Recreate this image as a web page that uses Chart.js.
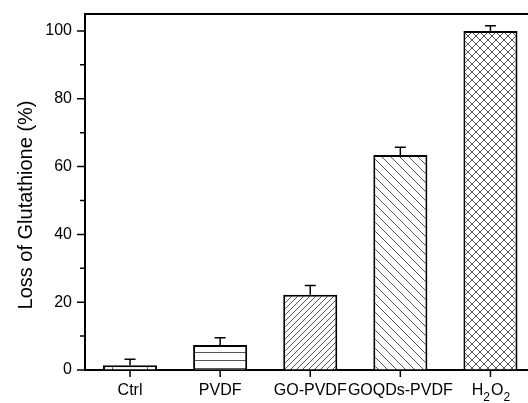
<!DOCTYPE html>
<html>
<head>
<meta charset="utf-8">
<script src="https://cdn.jsdelivr.net/npm/chart.js@4.4.1/dist/chart.umd.min.js"></script>
<style>
html, body { margin: 0; padding: 0; background: #fff; }
#wrap { width: 528px; height: 403px; overflow: hidden; }
canvas { display: block; }
</style>
</head>
<body>
<div id="wrap"><canvas id="chart" width="540" height="403"></canvas></div>
<script>
// Data
const categories = ['Ctrl', 'PVDF', 'GO-PVDF', 'GOQDs-PVDF', 'H2O2'];
const lossValues = [1.4, 7.4, 22.2, 63.4, 100];
const lossErrors = [1.8, 2.1, 2.7, 2.3, 1.5];
const yLabelTicks = [0, 20, 40, 60, 80, 100];
const yMinorTicks = [10, 30, 50, 70, 90];
const yTitle = 'Loss of Glutathione (%)';

const FONT = '"Liberation Sans", Arial, sans-serif';
const canvas = document.getElementById('chart');
const ctx = canvas.getContext('2d');

// Hatch fills
function hatch(size, draw) {
    const c = document.createElement('canvas');
    c.width = size; c.height = size;
    const g = c.getContext('2d');
    g.fillStyle = '#fff';
    g.fillRect(0, 0, size, size);
    g.strokeStyle = '#555';
    g.lineWidth = 1;
    g.beginPath();
    draw(g, size);
    g.stroke();
    return ctx.createPattern(c, 'repeat');
}
const fwd = (g, s) => {
    g.moveTo(0, s); g.lineTo(s, 0);
    g.moveTo(-1, 1); g.lineTo(1, -1);
    g.moveTo(s - 1, s + 1); g.lineTo(s + 1, s - 1);
};
const back = (g, s) => {
    g.moveTo(0, 0); g.lineTo(s, s);
    g.moveTo(-1, s - 1); g.lineTo(1, s + 1);
    g.moveTo(s - 1, -1); g.lineTo(s + 1, 1);
};
const fills = [
    hatch(35, (g, s) => { g.moveTo(7.5, 0); g.lineTo(7.5, s); }),
    hatch(8, (g, s) => { g.moveTo(0, 0.5); g.lineTo(s, 0.5); }),
    hatch(6, fwd),
    hatch(9, back),
    hatch(8, (g, s) => { fwd(g, s); back(g, s); })
];

// draw a label, digits as subscripts (H2O2)
function drawLabel(c, text, cx, baseline) {
    const parts = text.match(/\d+|\D+/g);
    const sub = p => /^\d+$/.test(p) && /[A-Za-z]/.test(text);
    let total = 0;
    parts.forEach(p => {
        c.font = (sub(p) ? '12px ' : '16px ') + FONT;
        total += c.measureText(p).width;
    });
    let x = cx - total / 2;
    c.textAlign = 'left';
    parts.forEach(p => {
        const s = sub(p);
        c.font = (s ? '12px ' : '16px ') + FONT;
        c.fillText(p, x, baseline + (s ? 6 : 0));
        x += c.measureText(p).width + (s ? 1 : 0);
    });
}

const decor = {
    id: 'decor',
    afterDatasetsDraw(chart) {
        const { ctx: c, scales: { x, y } } = chart;
        c.save();
        c.strokeStyle = '#000';
        c.lineWidth = 1.5;
        lossValues.forEach((v, i) => {
            const px = x.getPixelForValue(i);
            const top = y.getPixelForValue(v);
            const end = y.getPixelForValue(v + lossErrors[i]);
            c.beginPath();
            c.moveTo(px, top); c.lineTo(px, end);
            c.moveTo(px - 5.5, end); c.lineTo(px + 5.5, end);
            c.stroke();
        });
        c.restore();
    },
    afterDraw(chart) {
        const { ctx: c, chartArea: a, scales: { x, y } } = chart;
        c.save();
        c.strokeStyle = '#000';
        // top frame
        c.lineWidth = 2;
        c.beginPath();
        c.moveTo(a.left - 1, a.top); c.lineTo(chart.width, a.top);
        c.stroke();
        // ticks
        c.lineWidth = 1.5;
        c.beginPath();
        yLabelTicks.forEach(t => {
            const py = y.getPixelForValue(t);
            c.moveTo(a.left - 8, py); c.lineTo(a.left, py);
        });
        yMinorTicks.forEach(t => {
            const py = y.getPixelForValue(t);
            c.moveTo(a.left - 5, py); c.lineTo(a.left, py);
        });
        categories.forEach((_, i) => {
            const px = x.getPixelForValue(i);
            c.moveTo(px, a.bottom); c.lineTo(px, a.bottom + 7);
        });
        c.stroke();
        // category labels
        c.fillStyle = '#000';
        c.textBaseline = 'alphabetic';
        categories.forEach((lab, i) => drawLabel(c, lab, x.getPixelForValue(i), a.bottom + 25));
        // y title
        c.translate(32, (a.top + a.bottom) / 2 + 13);
        c.rotate(-Math.PI / 2);
        c.textAlign = 'center';
        c.font = '20px ' + FONT;
        c.fillText(yTitle, 0, 0);
        c.restore();
    }
};

const noPad = s => { s.paddingTop = 0; s.paddingBottom = 0; s.paddingLeft = 0; s.paddingRight = 0; };

new Chart(ctx, {
    type: 'bar',
    data: {
        labels: categories,
        datasets: [{
            data: lossValues,
            backgroundColor: fills,
            borderColor: '#000',
            borderWidth: 2,
            barPercentage: 0.6,
            categoryPercentage: 1
        }]
    },
    options: {
        responsive: false,
        animation: false,
        devicePixelRatio: 1,
        layout: { padding: { top: 14, right: 4.5, left: 0, bottom: 0 } },
        plugins: { legend: { display: false }, tooltip: { enabled: false } },
        scales: {
            x: {
                grid: { drawOnChartArea: false, drawTicks: false },
                border: { display: true, color: '#000', width: 2 },
                ticks: { display: false },
                afterFit: s => { s.height = 33; noPad(s); }
            },
            y: {
                min: 0,
                max: 105,
                grid: { drawOnChartArea: false, drawTicks: false },
                border: { display: true, color: '#000', width: 2 },
                ticks: {
                    stepSize: 10,
                    includeBounds: false,
                    padding: 13,
                    color: '#000',
                    font: { family: FONT, size: 16 },
                    callback: v => yLabelTicks.includes(v) ? String(v) : ''
                },
                afterFit: s => { s.width = 85; noPad(s); }
            }
        }
    },
    plugins: [decor]
});
</script>
</body>
</html>
